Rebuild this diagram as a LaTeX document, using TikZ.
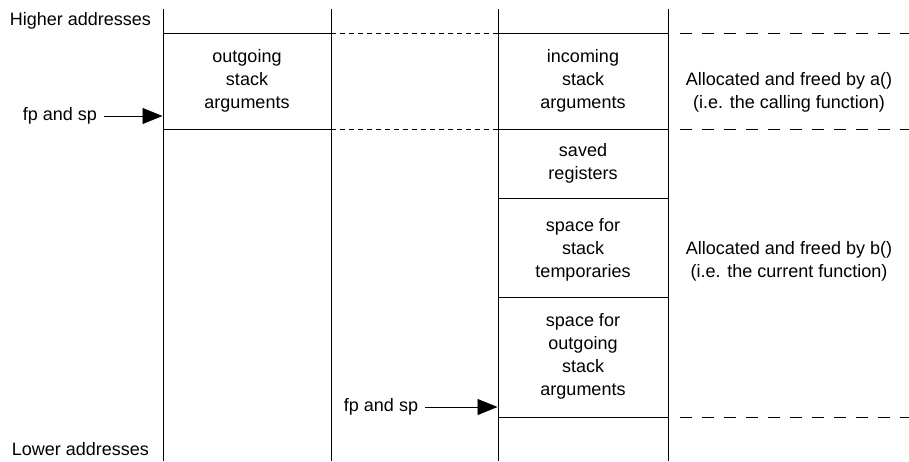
\documentclass[tikz,border=0pt]{standalone}
\usepackage{fontspec}
\setmainfont{Liberation Sans}
\usetikzlibrary{arrows.meta}
\begin{document}
\begin{tikzpicture}[x=1pt,y=-1pt,
  every node/.style={font=\fontsize{18}{23}\selectfont, inner sep=0pt, align=center},
  rule/.style={line width=0.9pt, black},
  shortdash/.style={line width=0.9pt, dash pattern=on 5pt off 4pt},
  longdash/.style={line width=0.9pt, dash pattern=on 12pt off 10pt},
  pointer/.style={line width=0.9pt, -{Triangle[length=20pt,width=16pt]}}]
\useasboundingbox (0,0) rectangle (909,461);
% vertical column lines
\coordinate (c1t) at (163,9);  \coordinate (c1b) at (163,461);
\coordinate (c2t) at (331,9);  \coordinate (c2b) at (331,461);
\coordinate (c3t) at (498,9);  \coordinate (c3b) at (498,461);
\coordinate (c4t) at (668,9);  \coordinate (c4b) at (668,461);
\draw[rule] (c1t) -- (c1b);
\draw[rule] (c2t) -- (c2b);
\draw[rule] (c3t) -- (c3b);
\draw[rule] (c4t) -- (c4b);
% horizontal lines, left frame
\draw[rule] (163,33) -- (331,33);
\draw[rule] (163,129) -- (331,129);
\draw[shortdash] (331,33) -- (498,33);
\draw[shortdash] (331,129) -- (498,129);
% right frame
\draw[rule] (498,33) -- (668,33);
\draw[rule] (498,129) -- (668,129);
\draw[rule] (498,198) -- (668,198);
\draw[rule] (498,297) -- (668,297);
\draw[rule] (498,417) -- (668,417);
% long dashes at right
\draw[longdash] (680,33) -- (909,33);
\draw[longdash] (680,129) -- (909,129);
\draw[longdash] (680,417) -- (909,417);
% labels
\node (hi) at (80.5,21) {Higher addresses};
\node (lo) at (80.5,449) {Lower addresses};
\node (out1) at (247,81) {outgoing\\stack\\arguments};
\node (inc) at (583,81) {incoming\\stack\\arguments};
\node (sav) at (583,163.5) {saved\\registers};
\node (tmp) at (583,250) {space for\\stack\\temporaries};
\node (out2) at (583,356.5) {space for\\outgoing\\stack\\arguments};
\node (ra) at (789,92.5) {Allocated and freed by a()\\(i.e. the calling function)};
\node (rb) at (789,261.5) {Allocated and freed by b()\\(i.e. the current function)};
% pointers
\node (fp1) at (60,116) {fp and sp};
\coordinate (p1) at (162.5,116);
\draw[pointer] ([xshift=7pt]fp1.east) -- (p1);
\node (fp2) at (381,407) {fp and sp};
\coordinate (p2) at (497.5,407);
\draw[pointer] ([xshift=7pt]fp2.east) -- (p2);
\end{tikzpicture}
\end{document}
